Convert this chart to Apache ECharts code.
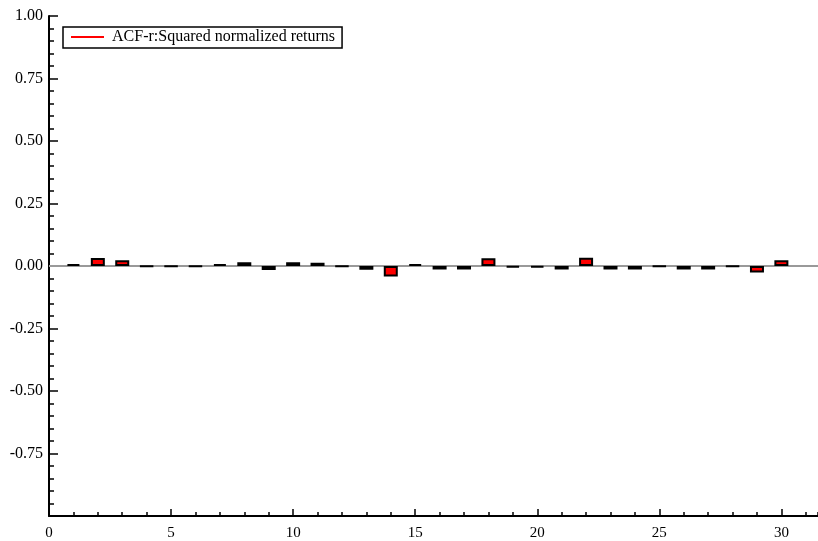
<!DOCTYPE html>
<html>
<head>
<meta charset="utf-8">
<script src="https://cdn.jsdelivr.net/npm/echarts@6/dist/echarts.min.js"></script>
<style>
  html, body { margin: 0; padding: 0; background: #fff; }
  #chart { width: 818px; height: 541px; }
</style>
</head>
<body>
<div id="chart"></div>
<script>
// Autocorrelation of squared normalized returns, lags 1..30
const seriesName = 'ACF-r:Squared normalized returns';
const lags = [1, 2, 3, 4, 5, 6, 7, 8, 9, 10, 11, 12, 13, 14, 15,
              16, 17, 18, 19, 20, 21, 22, 23, 24, 25, 26, 27, 28, 29, 30];
const acfValues = [0.008, 0.032, 0.023, -0.002, -0.002, -0.002, 0.008, 0.015, -0.016, 0.015,
                   0.013, -0.002, -0.015, -0.042, 0.008, -0.014, -0.014, 0.031, -0.006, -0.006,
                   -0.014, 0.033, -0.014, -0.014, -0.002, -0.014, -0.014, -0.002, -0.026, 0.023];
const yTicks = [-1, -0.75, -0.5, -0.25, 0, 0.25, 0.5, 0.75, 1];

const serif = '"Liberation Serif", "DejaVu Serif", serif';
const chart = echarts.init(document.getElementById('chart'));

const xCommon = {
  type: 'value',
  min: 0,
  max: 31.5,
  position: 'bottom',
  splitLine: { show: false }
};

chart.setOption({
  animation: false,
  backgroundColor: '#ffffff',
  grid: { left: 49, right: 0, top: 16, bottom: 25, containLabel: false },
  legend: {
    left: 63,
    top: 27,
    orient: 'vertical',
    borderColor: '#000',
    borderWidth: 1.5,
    borderRadius: 0,
    padding: [2, 7, 3, 8],
    itemWidth: 33,
    itemHeight: 2,
    itemGap: 4,
    data: [{ name: seriesName, icon: 'rect', itemStyle: { color: '#ff0000', borderWidth: 0 } }],
    textStyle: { fontFamily: serif, fontSize: 16, color: '#000', padding: [0, 0, 0, 3] }
  },
  xAxis: [
    Object.assign({}, xCommon, {
      interval: 1,
      axisLine: { show: true, onZero: false, lineStyle: { color: '#000', width: 2 } },
      axisTick: { show: true, inside: true, length: 4, lineStyle: { color: '#000', width: 1.5 } },
      axisLabel: { show: false }
    }),
    Object.assign({}, xCommon, {
      interval: 5,
      axisLine: { show: false, onZero: false },
      axisTick: { show: true, inside: true, length: 7, lineStyle: { color: '#000', width: 1.5 } },
      axisLabel: {
        show: true, margin: 10, showMaxLabel: false,
        fontFamily: serif, fontSize: 15, color: '#000'
      }
    })
  ],
  yAxis: {
    type: 'value',
    min: yTicks[0],
    max: yTicks[yTicks.length - 1],
    interval: 0.25,
    axisLine: { show: true, onZero: false, lineStyle: { color: '#000', width: 2 } },
    axisTick: { show: true, inside: true, length: 9, lineStyle: { color: '#000', width: 1.5 } },
    minorTick: { show: true, splitNumber: 5, length: 5, lineStyle: { color: '#000', width: 1.5 } },
    splitLine: { show: false },
    axisLabel: {
      margin: 6,
      showMinLabel: false,
      fontFamily: serif, fontSize: 16, color: '#000',
      formatter: v => (Math.abs(v) < 1e-9 ? 0 : v).toFixed(2)
    }
  },
  series: [
    {
      // zero reference line, kept beneath the bars
      type: 'line',
      name: 'zero',
      data: [],
      z: 1,
      silent: true,
      markLine: {
        z: 1,
        symbol: ['none', 'none'],
        label: { show: false },
        lineStyle: { color: '#999999', width: 2, type: 'solid' },
        data: [{ yAxis: 0 }]
      }
    },
    {
      type: 'bar',
      name: seriesName,
      z: 3,
      barWidth: 14,
      itemStyle: { color: '#ff0000', borderColor: '#000', borderWidth: 2 },
      data: lags.map((l, i) => [l, acfValues[i]])
    }
  ]
});
</script>
</body>
</html>
